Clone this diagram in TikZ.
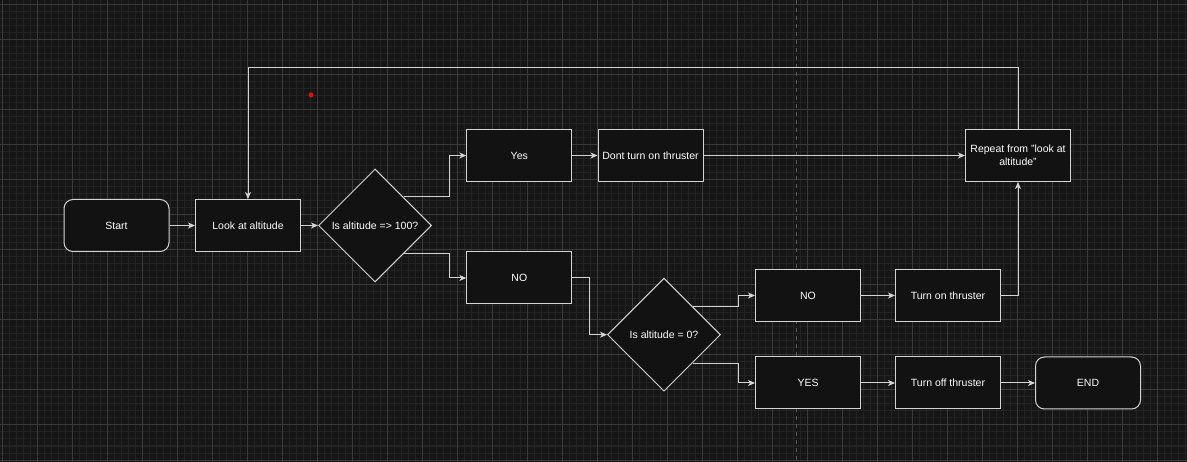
\documentclass[tikz,border=0pt]{standalone}
\usepackage{fontspec}
\setmainfont{Liberation Sans}
\usetikzlibrary{shapes.geometric,arrows.meta}
\definecolor{bg}{HTML}{161616}
\definecolor{gridminor}{HTML}{232323}
\definecolor{gridmajor}{HTML}{3A3A3A}
\definecolor{pagebreak}{HTML}{5A5A5A}
\definecolor{boxfill}{HTML}{121212}
\definecolor{stroke}{HTML}{D4D4D4}
\definecolor{ink}{HTML}{FFFFFF}
\definecolor{marker}{HTML}{E01010}
\tikzset{
  minorline/.style={draw=gridminor, line width=1pt},
  majorline/.style={draw=gridmajor, line width=1pt},
  breakline/.style={draw=pagebreak, line width=1pt, dash pattern=on 4pt off 4pt},
  box/.style={draw=stroke, fill=boxfill, line width=1pt, minimum width=105pt,
    minimum height=52pt, inner sep=2pt, text=ink, align=center,
    font=\fontsize{10.5}{13}\selectfont},
  term/.style={box, rounded corners=9pt},
  decision/.style={diamond, aspect=1, draw=stroke, fill=boxfill, line width=1pt,
    minimum size=113pt, inner sep=0pt, text=ink, font=\fontsize{10.5}{13}\selectfont},
  flow/.style={draw=stroke, line width=1pt, -{Stealth[length=7pt,width=6pt,inset=2pt]}},
  dot/.style={circle, fill=marker, inner sep=0pt, minimum size=5pt}
}
\newcommand{\dq}{\symbol{34}}
\begin{document}
\begin{tikzpicture}[x=1pt, y=-1pt]
  \useasboundingbox (0,0) rectangle (1187,462);
  \fill[bg] (0,0) rectangle (1187,462);
  \foreach \x in {2.7,9.7,...,1187} \draw[minorline] (\x,0) -- (\x,462);
  \foreach \y in {5,12,...,462} \draw[minorline] (0,\y) -- (1187,\y);
  \foreach \x in {2.7,37.7,...,1187} \draw[majorline] (\x,0) -- (\x,462);
  \foreach \y in {5,40,...,462} \draw[majorline] (0,\y) -- (1187,\y);
  \draw[breakline] (796,0) -- (796,462);

  \node[dot] (cursor) at (311,95) {};

  \node[term] (start) at (116.5,225.5) {Start};
  \node[box] (look) at (248,225.5) {Look at altitude};
  \node[decision] (high) at (375,225.5) {Is altitude => 100?};
  \node[box] (yes) at (519.3,155.5) {Yes};
  \node[box] (dont) at (650.5,155.5) {Dont turn on thruster};
  \node[box] (repeat) at (1018,155.5) {Repeat from \dq look at\\altitude\dq};
  \node[box] (no) at (519.3,278) {NO};
  \node[decision] (zero) at (664,334.7) {Is altitude = 0?};
  \node[box] (notzero) at (808,295.5) {NO};
  \node[box] (iszero) at (808,383) {YES};
  \node[box] (thrOn) at (948,295.5) {Turn on thruster};
  \node[box] (thrOff) at (948,383) {Turn off thruster};
  \node[term] (finish) at (1088,383) {END};

  \draw[flow] (start) -- (look);
  \draw[flow] (look) -- (high);
  \draw[flow] (high.north east) -- ++(46,0) |- (yes.west);
  \draw[flow] (high.south east) -- ++(46,0) |- (no.west);
  \draw[flow] (yes) -- (dont);
  \draw[flow] (dont) -- (repeat);
  \draw[flow] (repeat.north) -- ++(0,-61.5) -| (look.north);
  \draw[flow] (no.east) -- ++(17,0) |- (zero.west);
  \draw[flow] (zero.north east) -- ++(46,0) |- (notzero.west);
  \draw[flow] (zero.south east) -- ++(46,0) |- (iszero.west);
  \draw[flow] (notzero) -- (thrOn);
  \draw[flow] (thrOn.east) -| (repeat.south);
  \draw[flow] (iszero) -- (thrOff);
  \draw[flow] (thrOff) -- (finish);
\end{tikzpicture}
\end{document}
